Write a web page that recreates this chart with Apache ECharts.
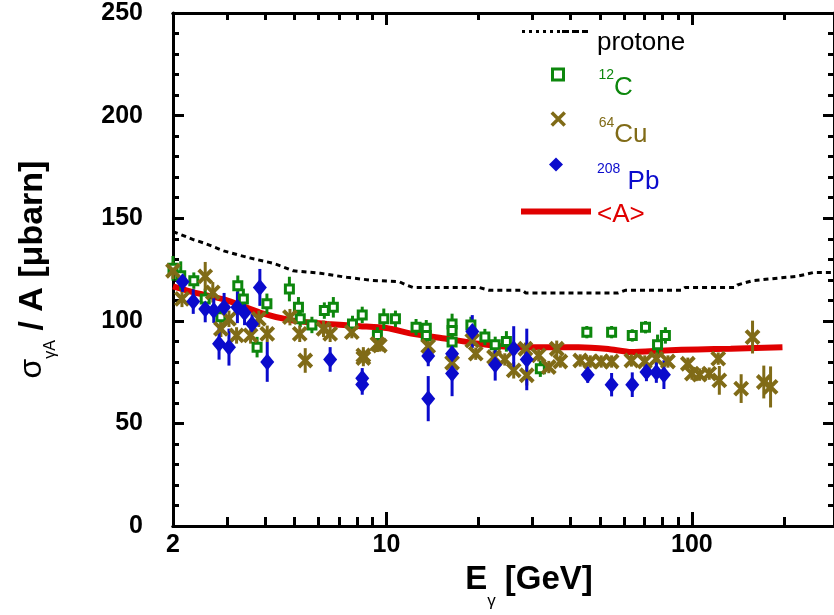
<!DOCTYPE html>
<html><head><meta charset="utf-8">
<script src="https://cdn.jsdelivr.net/npm/echarts@6/dist/echarts.min.js"></script>
<style>html,body{margin:0;padding:0;background:#fff}#c{width:834px;height:615px}</style>
</head><body><div id="c"></div>
<script>
// ---- axis definitions ----
const xLabelValues = [2, 10, 100];
const xMajorTicks = [10, 100];
const xMinorTicks = [3, 4, 5, 6, 7, 8, 9, 20, 30, 40, 50, 60, 70, 80, 90, 200];
const xMin = 2, xMax = 292;
const yMin = 0, yMax = 250, yStep = 50;

// ---- protone (dashed black curve) ----
const protoneE = [2.0, 2.34, 2.53, 2.93, 3.51, 4.27, 4.95, 6.07, 7.42, 9.02, 11.0, 11.6, 12.2, 20.1, 21.7, 27.8, 28.6, 57.4, 60.5, 92.2, 95.0, 138, 141, 158, 221, 251, 292];
const protoneV = [143.5, 139.5, 137.9, 134.1, 130.9, 128.0, 124.4, 123.2, 121.2, 119.7, 119.1, 117.5, 116.3, 116.3, 114.9, 114.9, 113.6, 113.6, 114.9, 114.9, 116.3, 116.3, 117.5, 119.6, 121.7, 123.6, 123.6];

// ---- <A> (red curve) ----
const avgE = [2.0, 2.34, 3.02, 3.87, 4.96, 6.39, 8.19, 10.0, 12.2, 15.7, 20.1, 25.8, 33.2, 42.6, 53.3, 63.3, 81.7, 104.6, 134, 198];
const avgV = [116.8, 113.9, 109.9, 103.9, 100.1, 98.5, 97.4, 96.5, 93.7, 91.3, 88.8, 87.2, 87.2, 87.2, 86.3, 84.8, 85.6, 86.1, 86.4, 87.2];

// ---- 12C ----
const cE = [2.0, 2.12, 2.34, 2.55, 2.87, 3.26, 3.40, 3.77, 4.06, 4.81, 5.15, 5.22, 5.70, 6.26, 6.70, 7.74, 8.33, 9.34, 9.80, 10.7, 12.5, 13.5, 13.5, 16.4, 16.4, 16.4, 18.9, 21.0, 22.7, 24.7, 31.9, 45.3, 54.6, 63.8, 70.5, 77.2, 81.9];
const cV = [125.6, 122.0, 119.6, 110.7, 102.0, 117.1, 110.7, 87.2, 108.3, 115.5, 106.6, 101.0, 98.0, 105.0, 106.6, 98.5, 102.9, 92.9, 101.0, 101.0, 96.9, 96.4, 92.9, 98.5, 95.3, 89.7, 98.0, 92.1, 88.3, 90.0, 76.7, 94.5, 94.5, 92.9, 96.9, 88.3, 92.9];
const cErr = [6, 7, 4, 5, 4, 5, 5, 5, 5, 6, 5, 4, 4, 4, 5, 4, 4, 4, 5, 4, 4, 4, 4, 5, 5, 5, 4, 4, 4, 5, 4, 3, 3, 3, 3, 5, 4];

// ---- 64Cu ----
const cuE = [2.0, 2.14, 2.55, 2.70, 2.87, 3.05, 3.23, 3.59, 3.82, 4.07, 4.83, 5.20, 5.42, 6.22, 6.54, 7.70, 8.40, 8.40, 9.34, 9.51, 13.7, 16.4, 19.1, 19.6, 22.5, 24.4, 26.1, 28.5, 28.8, 31.5, 34.0, 36.1, 37.1, 43.1, 46.5, 50.5, 54.6, 63.4, 70.1, 76.5, 83.5, 97.0, 100, 106, 114, 122, 123, 145, 158, 172, 181];
const cuV = [124.4, 110.7, 121.7, 113.9, 96.1, 101.0, 92.9, 92.9, 101.0, 93.7, 101.8, 93.7, 80.7, 96.1, 93.7, 94.5, 83.2, 81.9, 88.8, 88.0, 87.7, 79.6, 90.4, 84.0, 82.4, 81.2, 75.9, 86.4, 73.5, 83.2, 77.5, 86.4, 80.2, 80.7, 80.2, 80.2, 80.2, 80.7, 80.2, 81.6, 80.2, 79.1, 74.3, 73.8, 74.3, 81.6, 71.0, 67.0, 92.1, 70.2, 67.8];
const cuErr = [4, 4, 7, 5, 4, 4, 4, 4, 4, 4, 4, 4, 6, 4, 4, 3, 4, 4, 4, 3, 4, 4, 3, 3, 3, 3, 4, 3, 5, 3, 3, 4, 3, 3, 3, 3, 3, 3, 3, 3, 3, 3, 3, 3, 3, 3, 7, 7, 8, 8, 10];

// ---- 208Pb ----
const pbE = [2.15, 2.33, 2.55, 2.72, 2.83, 2.94, 3.05, 3.25, 3.43, 3.63, 3.85, 4.07, 6.54, 8.33, 8.33, 13.7, 13.7, 16.4, 16.4, 19.1, 22.7, 26.1, 28.8, 45.6, 54.6, 63.8, 71.0, 76.5, 81.0];
const pbV = [119.1, 109.4, 105.8, 105.0, 88.8, 106.6, 87.2, 106.6, 103.9, 98.5, 116.3, 80.0, 81.2, 72.0, 69.0, 82.9, 62.1, 84.0, 74.3, 94.8, 78.6, 86.4, 81.2, 73.8, 68.9, 68.9, 75.1, 74.8, 73.8];
const pbErr = [5, 6, 6.5, 6, 7.7, 7, 9, 7.7, 6, 5, 9, 9.7, 6, 5, 5, 5, 11, 6, 11, 8, 7.7, 11, 15, 4, 5.7, 6, 4.5, 5, 7];

// ---- styling ----
const FONT = "'Liberation Sans', Arial, Helvetica, sans-serif";
const GREEN = '#0d870d', OLIVE = '#806b17', BLUE = '#0b0bcc', RED = '#e00000';
const X_PATH = 'path://M0,0L10,10M10,0L0,10';

const zip2 = (a, b) => a.map((v, i) => [v, b[i]]);
const zip3 = (a, b, c) => a.map((v, i) => [v, b[i], c[i]]);

function errBars(color) {
  return function (params, api) {
    const x = api.value(0), y = api.value(1), e = api.value(2);
    const p1 = api.coord([x, y + e]), p2 = api.coord([x, y - e]);
    return { type: 'line', shape: { x1: p1[0], y1: p1[1], x2: p2[0], y2: p2[1] },
      style: { stroke: color, lineWidth: 3 } };
  };
}

function xAxisDef(position, ticks, len, labels) {
  return {
    type: 'log', logBase: 10, min: xMin, max: xMax, position: position,
    axisLine: { show: true, onZero: false, lineStyle: { color: '#000', width: 3 } },
    axisTick: { show: true, inside: true, length: len, customValues: ticks, lineStyle: { color: '#000', width: 3 } },
    axisLabel: labels ? { show: true, customValues: xLabelValues, fontFamily: FONT, fontWeight: 'bold', fontSize: 25, color: '#000', margin: 7,
      formatter: v => String(Math.round(v)) } : { show: false },
    splitLine: { show: false }, minorTick: { show: false }
  };
}
function yAxisDef(position, labels) {
  return {
    type: 'value', min: yMin, max: yMax, interval: yStep, position: position,
    axisLine: { show: true, onZero: false, lineStyle: { color: '#000', width: 3 } },
    axisTick: { show: true, inside: true, length: 11, lineStyle: { color: '#000', width: 3 } },
    minorTick: { show: true, splitNumber: 5, length: 6, lineStyle: { color: '#000', width: 3 } },
    axisLabel: labels ? { show: true, fontFamily: FONT, fontWeight: 'bold', fontSize: 25, color: '#000', margin: 30 } : { show: false },
    splitLine: { show: false }, minorSplitLine: { show: false }
  };
}

const xMain = xAxisDef('bottom', xMajorTicks, 14, true);
xMain.name = '{m|E}{sub|γ}{m| [GeV]}';
xMain.nameLocation = 'middle';
xMain.nameGap = 36;
xMain.nameTextStyle = { fontFamily: FONT, color: '#000', padding: [0, 0, 0, 51],
  rich: { m: { fontFamily: FONT, fontWeight: 'bold', fontSize: 33, lineHeight: 33, color: '#000', verticalAlign: 'top' },
          sub: { fontFamily: FONT, fontSize: 17, lineHeight: 17, color: '#000', verticalAlign: 'top', padding: [30, 0, 0, 0] } } };

const yMain = yAxisDef('left', true);
yMain.name = '{g|σ}{sub|γA}{m| / A [μbarn]}';
yMain.nameLocation = 'middle';
yMain.nameRotate = 90;
yMain.nameGap = 123;
yMain.nameTextStyle = { fontFamily: FONT, color: '#000',
  rich: { m: { fontFamily: FONT, fontWeight: 'bold', fontSize: 34, lineHeight: 34, color: '#000', verticalAlign: 'top' },
          g: { fontFamily: FONT, fontSize: 32, lineHeight: 34, color: '#000', verticalAlign: 'top' },
          sub: { fontFamily: FONT, fontSize: 16, lineHeight: 16, color: '#000', verticalAlign: 'top', padding: [27, 0, 0, 0] } } };

// ---- legend entries ----
const legendNames = ['protone', '12C', '64Cu', '208Pb', '<A>'];
const legendSup = ['', '12', '64', '208', ''];
const legendMain = ['protone', 'C', 'Cu', ' Pb', '<A>'];
const legendColors = ['#000', GREEN, OLIVE, BLUE, RED];
const legendCY = [37, 81, 127, 173, 213];
const legendLeft = [522, 551, 550, 549, 521];
const legendIconW = [66, 11, 13, 14, 70];
const legendIconH = [3, 11, 13, 14, 6];
const legendIcons = [
  'path://M0,0h3v3h-3zM7,0h3v3h-3zM14,0h3v3h-3zM21,0h3v3h-3zM28,0h3v3h-3zM35,0h3v3h-3zM40,0h7v3h-7zM50,0h7v3h-7zM60,0h6v3h-6z',
  null, null, null,
  'path://M0,0h70v6h-70z'
];
const legendPad = [11, 13, 16, 17, 3];
const TEXT_X = 597;

const legends = legendNames.map((n, i) => {
  const pad = legendPad[i];
  const H = Math.max(legendIconH[i], 26 + pad);
  const padL = Math.max(0, TEXT_X - (legendLeft[i] + legendIconW[i] + 5));
  const hasSup = !!legendSup[i];
  const txt = (hasSup ? '{s|' + legendSup[i] + '}' : '') + '{m|' + legendMain[i] + '}';
  const item = legendIcons[i] ? { name: n, icon: legendIcons[i] } : { name: n };
  const leg = {
    orient: 'vertical', left: legendLeft[i], top: legendCY[i] - H / 2, padding: 0,
    itemWidth: legendIconW[i], itemHeight: legendIconH[i], itemGap: 0, selectedMode: false,
    data: [item], formatter: () => txt,
    textStyle: { rich: {
      m: { fontFamily: FONT, fontSize: 26, lineHeight: 26, color: legendColors[i], verticalAlign: 'top', padding: [pad, 0, 0, hasSup ? 0 : padL] },
      s: { fontFamily: FONT, fontSize: 14, lineHeight: 14, color: legendColors[i], verticalAlign: 'top', padding: [Math.max(0, pad - 6), 0, 0, padL] }
    } }
  };
  if (n === '64Cu') leg.itemStyle = { borderWidth: 3.5, borderColor: OLIVE, color: OLIVE };
  if (n === '12C') leg.itemStyle = { borderWidth: 3, borderColor: GREEN, color: '#fff' };
  return leg;
});

const option = {
  backgroundColor: '#fff',
  animation: false,
  grid: { left: 173, top: 13, width: 665, height: 516, containLabel: false },
  legend: legends,
  xAxis: [xMain, xAxisDef('bottom', xMinorTicks, 9, false), xAxisDef('top', xMajorTicks, 12, false), xAxisDef('top', xMinorTicks, 7, false)],
  yAxis: [yMain, yAxisDef('right', false)],
  series: [
    { name: 'protone', type: 'line', data: zip2(protoneE, protoneV), symbol: 'none', z: 2,
      lineStyle: { color: '#000', width: 3, type: [5, 4] }, itemStyle: { color: '#000' } },
    { name: '<A>', type: 'line', data: zip2(avgE, avgV), symbol: 'none', smooth: 0.2, z: 2,
      lineStyle: { color: RED, width: 6 }, itemStyle: { color: RED } },
    { name: 'cErr', type: 'custom', renderItem: errBars(GREEN), data: zip3(cE, cV, cErr), encode: { x: 0, y: 1 }, z: 3 },
    { name: 'cuErr', type: 'custom', renderItem: errBars(OLIVE), data: zip3(cuE, cuV, cuErr), encode: { x: 0, y: 1 }, z: 3 },
    { name: 'pbErr', type: 'custom', renderItem: errBars(BLUE), data: zip3(pbE, pbV, pbErr), encode: { x: 0, y: 1 }, z: 3 },
    { name: '12C', type: 'scatter', data: zip2(cE, cV), symbol: 'rect', symbolSize: 8, z: 4,
      itemStyle: { color: '#fff', borderColor: GREEN, borderWidth: 3, opacity: 1 } },
    { name: '64Cu', type: 'scatter', data: zip2(cuE, cuV), symbol: X_PATH, symbolSize: 13, z: 4,
      itemStyle: { color: OLIVE, borderColor: OLIVE, borderWidth: 4, opacity: 1 } },
    { name: '208Pb', type: 'scatter', data: zip2(pbE, pbV), symbol: 'diamond', symbolSize: [14, 17], z: 4,
      itemStyle: { color: BLUE, opacity: 1 } }
  ]
};

const chart = echarts.init(document.getElementById('c'), null, { renderer: 'canvas' });
chart.setOption(option);
</script>
</body></html>
